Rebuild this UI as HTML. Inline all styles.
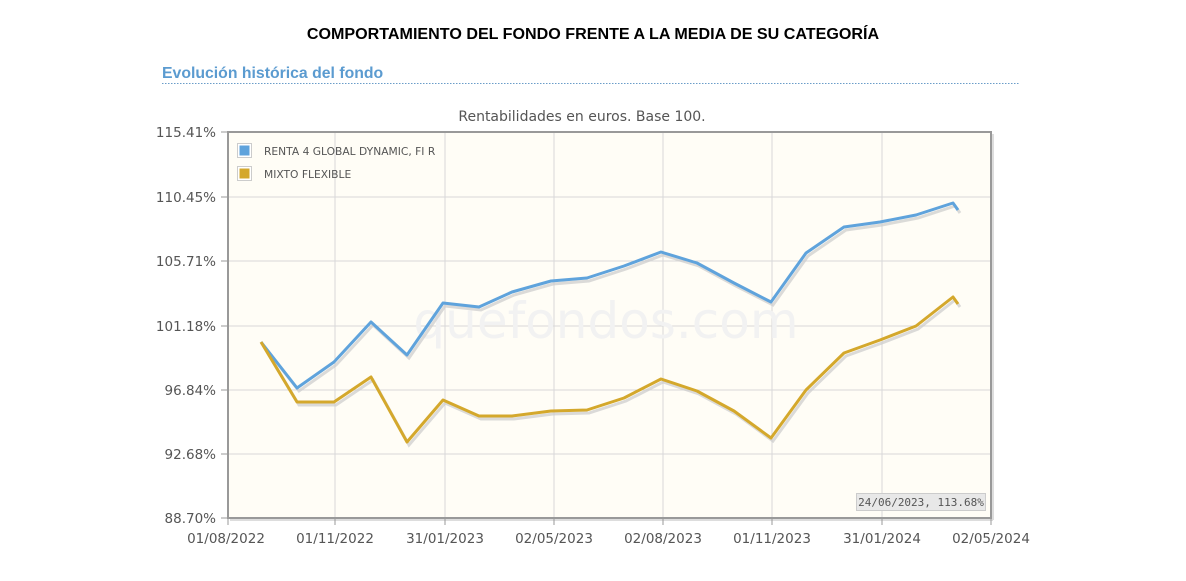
<!DOCTYPE html>
<html><head><meta charset="utf-8"><style>
body{margin:0;width:1186px;height:581px;background:#fff;overflow:hidden;font-family:"Liberation Sans",sans-serif;}
</style></head><body>
<svg width="1186" height="581" xmlns="http://www.w3.org/2000/svg" style="position:absolute;left:0;top:0">
<text x="593" y="39" text-anchor="middle" font-family="Liberation Sans" font-weight="bold" font-size="16.1" fill="#000">COMPORTAMIENTO DEL FONDO FRENTE A LA MEDIA DE SU CATEGORÍA</text>
<text x="162" y="78" font-family="Liberation Sans" font-weight="bold" font-size="15.8" fill="#5b9bd0">Evolución histórica del fondo</text>
<line x1="162" y1="83.5" x2="1020" y2="83.5" stroke="#6a9cc8" stroke-dasharray="1.5,1.5"/>
<text x="582" y="121" text-anchor="middle" font-family="DejaVu Sans" font-size="14" fill="#555">Rentabilidades en euros. Base 100.</text>
<rect x="228" y="132" width="763" height="386" fill="#fffdf6"/>
<g stroke="#d8d8d8" stroke-width="1">
<line x1="228" y1="197" x2="991" y2="197"/><line x1="228" y1="261" x2="991" y2="261"/><line x1="228" y1="326" x2="991" y2="326"/><line x1="228" y1="390" x2="991" y2="390"/><line x1="228" y1="454" x2="991" y2="454"/>
<line x1="335" y1="132" x2="335" y2="518"/><line x1="445" y1="132" x2="445" y2="518"/><line x1="554" y1="132" x2="554" y2="518"/><line x1="663" y1="132" x2="663" y2="518"/><line x1="772" y1="132" x2="772" y2="518"/><line x1="882" y1="132" x2="882" y2="518"/>
</g>
<text x="606" y="338" text-anchor="middle" font-family="DejaVu Sans" font-size="50" fill="#f2f2f2">quefondos.com</text>
<rect x="228" y="132" width="763" height="386" fill="none" stroke="#999" stroke-width="2"/>
<line x1="993" y1="134" x2="993" y2="520" stroke="#ddd" stroke-width="2"/>
<line x1="230" y1="520" x2="993" y2="520" stroke="#ddd" stroke-width="2"/>
<g stroke="#999" stroke-width="1">
<line x1="221" y1="132" x2="228" y2="132"/><line x1="221" y1="197" x2="228" y2="197"/><line x1="221" y1="261" x2="228" y2="261"/><line x1="221" y1="326" x2="228" y2="326"/><line x1="221" y1="390" x2="228" y2="390"/><line x1="221" y1="454" x2="228" y2="454"/><line x1="221" y1="518" x2="228" y2="518"/>
<line x1="228" y1="518" x2="228" y2="525"/><line x1="335" y1="518" x2="335" y2="525"/><line x1="445" y1="518" x2="445" y2="525"/><line x1="554" y1="518" x2="554" y2="525"/><line x1="663" y1="518" x2="663" y2="525"/><line x1="772" y1="518" x2="772" y2="525"/><line x1="882" y1="518" x2="882" y2="525"/><line x1="991" y1="518" x2="991" y2="525"/>
</g>
<g font-family="DejaVu Sans" font-size="13.5" fill="#555" text-anchor="end">
<text x="216" y="137">115.41%</text><text x="216" y="202">110.45%</text><text x="216" y="266">105.71%</text><text x="216" y="331">101.18%</text><text x="216" y="395">96.84%</text><text x="216" y="459">92.68%</text><text x="216" y="523">88.70%</text>
</g>
<g font-family="DejaVu Sans" font-size="13.5" fill="#555" text-anchor="middle">
<text x="226" y="543">01/08/2022</text><text x="335" y="543">01/11/2022</text><text x="445" y="543">31/01/2023</text><text x="554" y="543">02/05/2023</text><text x="663" y="543">02/08/2023</text><text x="772" y="543">01/11/2023</text><text x="882" y="543">31/01/2024</text><text x="991" y="543">02/05/2024</text>
</g>
<g transform="translate(2,3)" fill="none" stroke="#ccc" stroke-width="3" opacity="0.7">
<polyline points="261,342 297,388 334,362 371,322 407,355 443,303 479,307 512,292 551,281 587,278 624,266 661,252 697,263 734,283 771,302 806,253 844,227 880,222 916,215 953,203 958,210"/>
<polyline points="261,342 297,402 334,402 371,377 407,442 443,400 479,416 512,416 551,411 587,410 624,398 661,379 697,391 734,411 771,438 806,390 844,353 880,340 916,326 953,297 958,304"/>
</g>
<polyline fill="none" stroke="#5fa3dc" stroke-width="3" stroke-linejoin="round" points="261,342 297,388 334,362 371,322 407,355 443,303 479,307 512,292 551,281 587,278 624,266 661,252 697,263 734,283 771,302 806,253 844,227 880,222 916,215 953,203 958,210"/>
<polyline fill="none" stroke="#d4a82c" stroke-width="3" stroke-linejoin="round" points="261,342 297,402 334,402 371,377 407,442 443,400 479,416 512,416 551,411 587,410 624,398 661,379 697,391 734,411 771,438 806,390 844,353 880,340 916,326 953,297 958,304"/>
<rect x="237.5" y="143.5" width="14" height="14" fill="#fff" stroke="#ccc"/><rect x="239.5" y="145.5" width="10" height="10" fill="#5fa3dc"/>
<rect x="237.5" y="166.5" width="14" height="14" fill="#fff" stroke="#ccc"/><rect x="239.5" y="168.5" width="10" height="10" fill="#d4a82c"/>
<g font-family="DejaVu Sans" font-size="10.7" fill="#555"><text x="264" y="155">RENTA 4 GLOBAL DYNAMIC, FI R</text><text x="264" y="178">MIXTO FLEXIBLE</text></g>
<rect x="856.5" y="493.5" width="129" height="17" fill="#e8e8e8" stroke="#ccc"/>
<text x="921" y="506" text-anchor="middle" font-family="DejaVu Sans Mono" font-size="11" fill="#555">24/06/2023, 113.68%</text>
</svg>
</body></html>
